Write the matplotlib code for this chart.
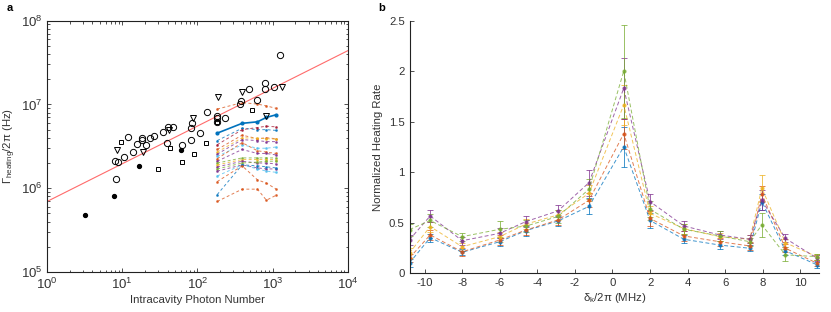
import numpy as np
import matplotlib
matplotlib.use("Agg")
import matplotlib.pyplot as plt
from matplotlib.ticker import LogLocator, NullFormatter

plt.rcParams['font.family'] = ['Liberation Sans', 'DejaVu Sans']
plt.rcParams['mathtext.fontset'] = 'custom'
plt.rcParams['mathtext.rm'] = 'Liberation Sans'
plt.rcParams['mathtext.it'] = 'Liberation Sans'
plt.rcParams['font.size'] = 8.2
plt.rcParams['axes.unicode_minus'] = False

# ---- panel a data ----
circ_x = [8.06, 8.2, 8.9, 10.7, 11.9, 13.8, 15.6, 18.2, 18.2, 20.8, 23.5, 26.8, 35.2, 39.8, 41, 46.9,
          61.7, 82, 82, 85.3, 107, 135, 180, 180, 183, 232, 366, 381, 486, 628, 785, 801, 1045, 1268]
circ_y = [2.12e6, 1.28e6, 2.05e6, 2.39e6, 4.1e6, 2.69e6, 3.36e6, 4.03e6, 3.78e6, 3.24e6, 4.03e6, 4.18e6,
          4.66e6, 3.45e6, 5.35e6, 5.45e6, 3.24e6, 3.78e6, 5.2e6, 6.08e6, 4.54e6, 8.07e6, 7.3e6, 6.25e6,
          6.8e6, 6.85e6, 1.01e7, 1.11e7, 1.53e7, 1.13e7, 1.79e7, 1.53e7, 1.6e7, 3.89e7]
sq_x = [9.7, 30.2, 43.2, 62.3, 89.9, 130, 180, 533]
sq_y = [3.6e6, 1.69e6, 3.06e6, 2.05e6, 2.55e6, 3.45e6, 6.14e6, 8.6e6]
tri_x = [8.5, 19.1, 42.4, 88, 189, 393, 826, 1346]
tri_y = [2.82e6, 2.67e6, 4.89e6, 6.85e6, 1.23e7, 1.42e7, 7.3e6, 1.6e7]
dot_x = [3.2, 7.8, 16.9, 60.4]
dot_y = [4.82e5, 8.1e5, 1.82e6, 2.82e6]

fit_x = [1, 1e4]
fit_y = [6.95e5, 4.38e7]

pow_x = [183, 393, 628, 826, 1099]
avg_y = [4.54e6, 5.95e6, 6.2e6, 7.0e6, 7.5e6]
dash_y = [
    [8.8e6, 1.05e7, 1.01e7, 9.6e6, 9.0e6],
    [3.7e6, 5.2e6, 5.0e6, 5.0e6, 4.9e6],
    [3.3e6, 5.0e6, 5.3e6, 5.5e6, 5.4e6],
    [2.9e6, 4.3e6, 3.9e6, 4.0e6, 3.9e6],
    [2.7e6, 4.0e6, 3.95e6, 3.9e6, 3.85e6],
    [2.55e6, 3.8e6, 3.7e6, 3.6e6, 3.6e6],
    [2.4e6, 3.3e6, 3.0e6, 3.0e6, 3.1e6],
    [2.25e6, 3.5e6, 2.8e6, 2.7e6, 2.6e6],
    [2.1e6, 2.9e6, 2.6e6, 2.6e6, 2.5e6],
    [2.0e6, 2.3e6, 2.3e6, 2.3e6, 2.3e6],
    [1.9e6, 2.2e6, 2.2e6, 2.2e6, 2.2e6],
    [1.8e6, 2.1e6, 2.0e6, 2.0e6, 1.95e6],
    [1.7e6, 2.0e6, 2.05e6, 2.1e6, 2.1e6],
    [1.6e6, 1.9e6, 1.75e6, 1.7e6, 1.7e6],
    [1.4e6, 1.9e6, 1.7e6, 1.6e6, 1.55e6],
    [8.4e5, 1.9e6, 1.85e6, 1.8e6, 1.75e6],
    [1.2e6, 1.85e6, 1.26e6, 1.15e6, 9.85e5],
    [6.95e5, 9.75e5, 9.75e5, 7.2e5, 8.2e5],
]
dash_c = ['#D95319', '#0072BD', '#A2142F', '#D95319', '#EDB120', '#7E2F8E', '#4DBEEE', '#D95319',
          '#7E2F8E', '#77AC30', '#EDB120', '#7E2F8E', '#77AC30', '#7E2F8E', '#4DBEEE', '#0072BD',
          '#D95319', '#D95319']

# ---- panel b data ----
det = [-10.8, -9.7, -8.0, -6.0, -4.6, -2.9, -1.25, 0.6, 2.0, 3.8, 5.7, 7.3, 7.95, 9.2, 10.9]
rate_blue = [0.10, 0.35, 0.205, 0.31, 0.42, 0.515, 0.66, 1.25, 0.52, 0.334, 0.277, 0.245, 0.707, 0.22, 0.08]
rate_orange = [0.15, 0.377, 0.21, 0.327, 0.426, 0.525, 0.72, 1.38, 0.54, 0.367, 0.31, 0.268, 0.78, 0.245, 0.096]
rate_yellow = [0.20, 0.46, 0.26, 0.36, 0.485, 0.575, 0.79, 1.665, 0.59, 0.44, 0.36, 0.334, 0.84, 0.30, 0.16]
rate_purple = [0.33, 0.565, 0.32, 0.393, 0.51, 0.615, 0.895, 1.83, 0.707, 0.466, 0.377, 0.334, 0.72, 0.343, 0.145]
rate_green = [0.43, 0.52, 0.36, 0.433, 0.465, 0.56, 0.83, 2.0, 0.63, 0.433, 0.367, 0.31, 0.476, 0.18, 0.162]
err_blue = [0.04, 0.04, 0.03, 0.04, 0.05, 0.05, 0.08, 0.2, 0.07, 0.04, 0.04, 0.03, 0.08, 0.04, 0.03]
err_orange = [0.04, 0.05, 0.04, 0.05, 0.05, 0.05, 0.07, 0.15, 0.07, 0.05, 0.04, 0.04, 0.08, 0.04, 0.03]
err_yellow = [0.05, 0.05, 0.04, 0.05, 0.05, 0.05, 0.08, 0.2, 0.07, 0.05, 0.04, 0.04, 0.13, 0.04, 0.03]
err_purple = [0.05, 0.06, 0.04, 0.05, 0.05, 0.06, 0.13, 0.3, 0.08, 0.05, 0.04, 0.04, 0.1, 0.04, 0.03]
err_green = [0.06, 0.06, 0.04, 0.08, 0.06, 0.06, 0.1, 0.46, 0.08, 0.05, 0.05, 0.04, 0.12, 0.06, 0.03]

fig = plt.figure(figsize=(8.31, 3.12), dpi=100)

# %% panel a
ax = fig.add_axes([0.0566, 0.128, 0.362, 0.806])
ax.plot(fit_x, fit_y, color='#ff6b6b', lw=0.8)
for yy, c in zip(dash_y, dash_c):
    ax.plot(pow_x, yy, ls=(0, (3, 2.5)), color=c, alpha=0.75, lw=0.7, marker='.', ms=2)
ax.plot(pow_x, avg_y, color='#0072BD', lw=1.2, marker='.', ms=4)
ax.plot(circ_x, circ_y, 'o', mfc='none', mec='k', ms=4.5, mew=0.7)
ax.plot(sq_x, sq_y, 's', mfc='none', mec='k', ms=3.5, mew=0.7)
ax.plot(tri_x, tri_y, 'v', mfc='none', mec='k', ms=5, mew=0.7)
ax.plot(dot_x, dot_y, 'o', color='k', ms=2.8)
ax.set_xscale('log')
ax.set_yscale('log')
ax.set_xlim(1, 1e4)
ax.set_ylim(1e5, 1e8)
ax.xaxis.set_major_locator(LogLocator(base=10, numticks=10))
ax.yaxis.set_major_locator(LogLocator(base=10, numticks=10))
ax.xaxis.set_minor_locator(LogLocator(base=10, subs=np.arange(2, 10), numticks=20))
ax.yaxis.set_minor_locator(LogLocator(base=10, subs=np.arange(2, 10), numticks=20))
ax.xaxis.set_minor_formatter(NullFormatter())
ax.yaxis.set_minor_formatter(NullFormatter())
ax.tick_params(which='both', direction='in', top=True, right=True, width=0.6, labelsize=9.5, colors='#333333')
ax.tick_params(which='major', length=3)
ax.tick_params(which='minor', length=1.8)
for s in ax.spines.values():
    s.set_linewidth(0.8)
    s.set_color('#222222')
ax.set_xlabel('Intracavity Photon Number', labelpad=2, color='#333333')
ax.set_ylabel(r'$\Gamma_{\mathrm{heating}}/2\pi$ (Hz)', labelpad=2, color='#333333')
fig.text(0.008, 0.965, 'a', fontweight='bold', fontsize=8)

# %% panel b
bx = fig.add_axes([0.4928, 0.125, 0.493, 0.809])
series = [(rate_blue, err_blue, '#0072BD'), (rate_orange, err_orange, '#D95319'),
          (rate_yellow, err_yellow, '#EDB120'), (rate_purple, err_purple, '#7E2F8E'),
          (rate_green, err_green, '#77AC30')]
for r, e, c in series:
    bx.errorbar(det, r, yerr=e, color=c, alpha=0.75, lw=0.7, ls=(0, (4, 2.5)), marker='.', ms=4,
                capsize=2, elinewidth=0.7, capthick=0.7)
bx.set_xlim(-10.8, 11)
bx.set_ylim(0, 2.5)
bx.set_xticks(np.arange(-10, 11, 2))
bx.set_yticks([0, 0.5, 1, 1.5, 2, 2.5])
bx.set_yticklabels(['0', '0.5', '1', '1.5', '2', '2.5'])
bx.spines['top'].set_visible(False)
bx.spines['right'].set_visible(False)
for s in ['left', 'bottom']:
    bx.spines[s].set_linewidth(0.8)
    bx.spines[s].set_color('#222222')
bx.tick_params(direction='in', length=3, width=0.6, labelsize=8.2, colors='#333333')
bx.set_xlabel(r'$\delta_k/2\pi$ (MHz)', labelpad=2, color='#333333')
bx.set_ylabel('Normalized Heating Rate', labelpad=4, color='#333333')
fig.text(0.455, 0.965, 'b', fontweight='bold', fontsize=8)

fig.savefig('out.png', dpi=100)
